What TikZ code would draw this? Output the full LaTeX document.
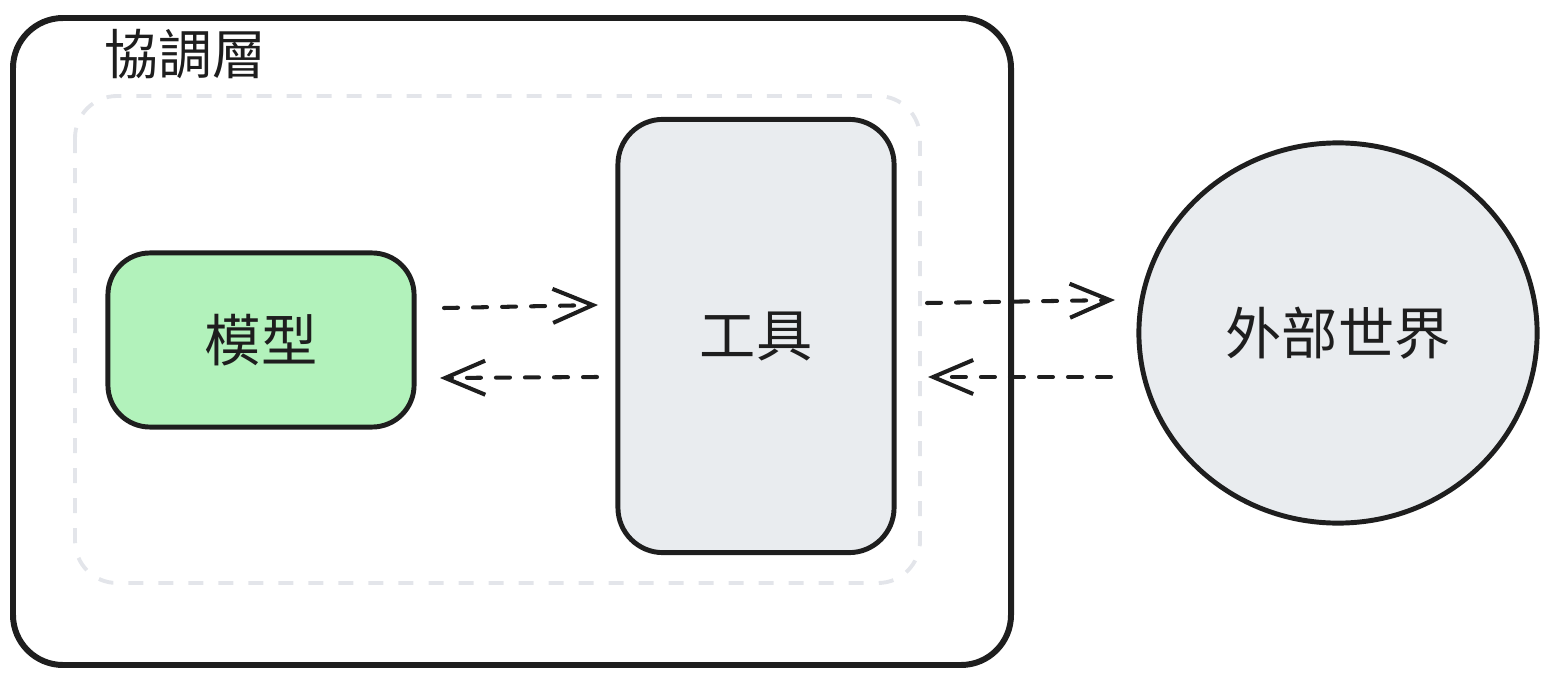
\documentclass[tikz,border=0pt]{standalone}
\usepackage{fontspec}
\setmainfont{Noto Sans CJK TC}
\usetikzlibrary{arrows.meta,shapes.geometric}
\definecolor{modelgreen}{HTML}{B2F2BB}
\definecolor{toolgray}{HTML}{E9ECEF}
\definecolor{dashgray}{HTML}{E3E5EA}
\definecolor{ink}{HTML}{1E1E1E}
\tikzset{
  box/.style={draw=ink, line width=1.4pt, rounded corners=0.42cm},
  lbl/.style={font=\fontsize{16}{18}\selectfont, text=ink},
  flow/.style={draw=ink, line width=1.15pt, dash pattern=on 0.14cm off 0.15cm, line cap=round,
    -{Straight Barb[length=0.4cm, width=0.34cm, line width=1.15pt]}}
}
\begin{document}
\begin{tikzpicture}[x=0.01cm,y=-0.01cm]
\useasboundingbox (0,0) rectangle (1552,688);
% outer coordination layer
\draw[box, line width=1.7pt, rounded corners=0.5cm] (13,18) rectangle (1011,665);
\node[anchor=north west, font=\fontsize{15.3}{17}\selectfont, text=ink, inner sep=0pt] (title) at (104,29) {協調層};
% dashed inner group
\draw[dashgray, line width=1.1pt, dash pattern=on 0.15cm off 0.15cm, rounded corners=0.42cm] (75,96) rectangle (920,583);
% model
\node[box, fill=modelgreen, minimum width=3.06cm, minimum height=1.74cm, inner sep=0pt] (model) at (261,340) {};
\node[lbl] (modeltxt) at (model.center) {模型};
% tools
\node[box, fill=toolgray, rounded corners=0.45cm, minimum width=2.76cm, minimum height=4.33cm, inner sep=0pt] (tools) at (756,336) {};
\node[lbl] (toolstxt) at (tools.center) {工具};
% world
\node[ellipse, draw=ink, line width=1.4pt, fill=toolgray, minimum width=3.98cm, minimum height=3.8cm, inner sep=0pt] (world) at (1338,333) {};
\node[lbl] (worldtxt) at (world.center) {外部世界};
% connectors
\coordinate (a1) at (444,308); \coordinate (a2) at (598,305);
\coordinate (b1) at (597,377); \coordinate (b2) at (440,378);
\coordinate (c1) at (927,303); \coordinate (c2) at (1115,300);
\coordinate (d1) at (1111,377); \coordinate (d2) at (928,377);
\draw[flow] (a1) -- (a2);
\draw[flow] (b1) -- (b2);
\draw[flow] (c1) -- (c2);
\draw[flow] (d1) -- (d2);
\end{tikzpicture}
\end{document}
